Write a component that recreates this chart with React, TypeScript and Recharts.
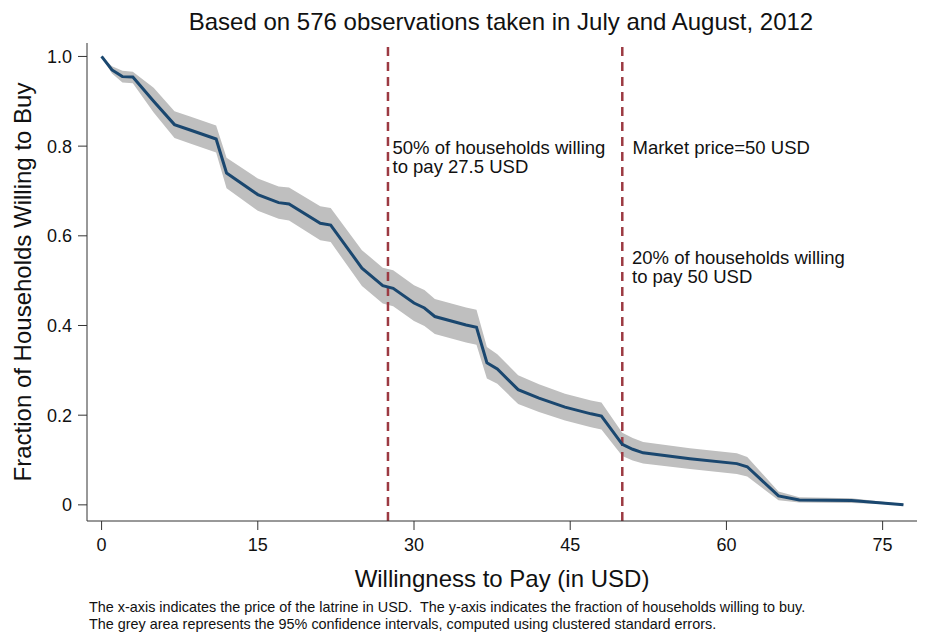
import { Area, ComposedChart, Line, ReferenceLine, XAxis, YAxis } from 'recharts'

// price points (USD) where the demand curve bends
const wtp = [0, 1, 2, 3, 5, 7, 8.5, 11, 12, 15, 17, 18, 21, 22, 25, 27, 28, 30, 31, 32, 35, 36, 37, 38, 40, 42, 44.5, 47, 48, 50, 51, 52, 56.5, 61, 62, 65, 67, 72, 77]
// fraction of households willing to buy
const share = [1.0, 0.97, 0.955, 0.954, 0.9, 0.848, 0.836, 0.816, 0.74, 0.692, 0.674, 0.671, 0.628, 0.624, 0.528, 0.489, 0.483, 0.45, 0.439, 0.42, 0.401, 0.396, 0.317, 0.303, 0.257, 0.238, 0.218, 0.203, 0.198, 0.135, 0.124, 0.116, 0.103, 0.092, 0.085, 0.02, 0.011, 0.0095, 0.0]
// 95% CI bounds
const ciLow = [1.0, 0.962, 0.942, 0.94, 0.875, 0.818, 0.806, 0.786, 0.706, 0.656, 0.638, 0.634, 0.59, 0.586, 0.488, 0.449, 0.443, 0.41, 0.399, 0.381, 0.362, 0.357, 0.282, 0.27, 0.225, 0.207, 0.188, 0.173, 0.168, 0.109, 0.099, 0.092, 0.08, 0.069, 0.063, 0.01, 0.005, 0.004, 0.0]
const ciHigh = [1.0, 0.978, 0.968, 0.966, 0.93, 0.878, 0.866, 0.846, 0.774, 0.728, 0.71, 0.708, 0.666, 0.662, 0.568, 0.529, 0.523, 0.49, 0.479, 0.459, 0.44, 0.435, 0.352, 0.336, 0.289, 0.269, 0.248, 0.233, 0.228, 0.161, 0.149, 0.14, 0.126, 0.115, 0.107, 0.03, 0.017, 0.015, 0.002]

const xTicks = [0, 15, 30, 45, 60, 75]
const yTicks = [0, 0.2, 0.4, 0.6, 0.8, 1.0]
const medianPrice = 27.5
const marketPrice = 50

const data = wtp.map((x, i) => ({ wtp: x, share: share[i], band: [ciLow[i], ciHigh[i]] }))

const FONT = '"Liberation Sans", Arial, Helvetica, sans-serif'
const AXIS = '#333'
const DASH = '#9c3a42'

const tickStyle = { fill: '#111', fontSize: 18, fontFamily: FONT }

export default function App() {
  return (
    <div style={{ position: 'absolute', left: 0, top: 0, width: 928, height: 643, background: '#fff' }}>
      <ComposedChart width={928} height={643} data={data} margin={{ top: 43, right: 11, bottom: 0, left: 0 }}>
        <XAxis
          type="number"
          dataKey="wtp"
          domain={[-1.4, 78.3]}
          ticks={xTicks}
          allowDataOverflow
          height={122}
          tickSize={9}
          tickMargin={8}
          stroke={AXIS}
          tick={tickStyle}
        />
        <YAxis
          type="number"
          domain={[-0.036, 1.03]}
          ticks={yTicks}
          allowDataOverflow
          width={87}
          tickSize={9}
          tickMargin={6}
          stroke={AXIS}
          tick={tickStyle}
          tickFormatter={(v: number) => (v === 0 ? '0' : v.toFixed(1))}
        />
        <Area
          dataKey="band"
          type="linear"
          fill="#bfbfbf"
          fillOpacity={1}
          stroke="none"
          isAnimationActive={false}
        />
        <ReferenceLine x={medianPrice} stroke={DASH} strokeWidth={2.5} strokeDasharray="9 6" />
        <ReferenceLine x={marketPrice} stroke={DASH} strokeWidth={2.5} strokeDasharray="9 6" />
        <Line
          dataKey="share"
          type="linear"
          stroke="#1a476f"
          strokeWidth={3}
          dot={false}
          isAnimationActive={false}
        />
      </ComposedChart>
      <svg
        width={928}
        height={643}
        style={{ position: 'absolute', left: 0, top: 0, pointerEvents: 'none' }}
        fontFamily={FONT}
      >
        <text x={501} y={30} textAnchor="middle" fontSize={24} fill="#111">
          Based on 576 observations taken in July and August, 2012
        </text>
        <g fontSize={18.5} fill="#111">
          <text x={392.5} y={153.5}>50% of households willing</text>
          <text x={392.5} y={172.5}>to pay 27.5 USD</text>
          <text x={632.5} y={153.5}>Market price=50 USD</text>
          <text x={632} y={263.5}>20% of households willing</text>
          <text x={632} y={282.5}>to pay 50 USD</text>
        </g>
        <text x={502} y={587} textAnchor="middle" fontSize={24} fill="#111">
          Willingness to Pay (in USD)
        </text>
        <text x={31} y={282} textAnchor="middle" fontSize={24} fill="#111" transform="rotate(-90 31 282)">
          Fraction of Households Willing to Buy
        </text>
        <g fontSize={14.4} fill="#111">
          <text x={89} y={612}>
            The x-axis indicates the price of the latrine in USD.{'\u00a0 '}The y-axis indicates the fraction of households willing to buy.
          </text>
          <text x={89} y={629}>
            The grey area represents the 95% confidence intervals, computed using clustered standard errors.
          </text>
        </g>
      </svg>
    </div>
  )
}
